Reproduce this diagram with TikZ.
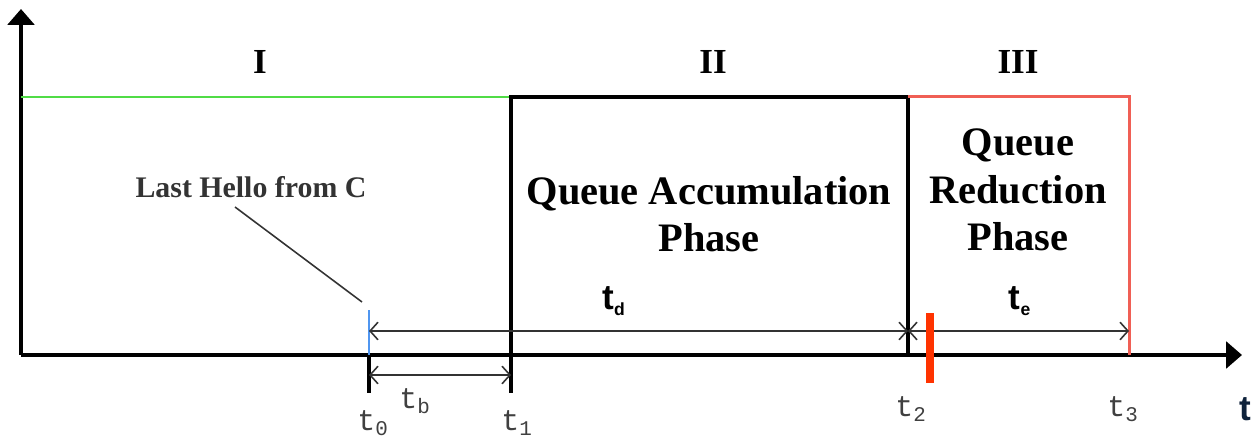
\documentclass[tikz,border=0pt]{standalone}
\usepackage{fontspec}
\setmainfont{Liberation Serif}
\newfontfamily\monofont{Liberation Mono}
\newfontfamily\sansfont{Liberation Sans}
\usepackage{xcolor}
\usepackage{tikz}
\usetikzlibrary{arrows.meta, positioning}

\definecolor{phasegreen}{RGB}{80,220,70}
\definecolor{phasered}{RGB}{240,95,85}
\definecolor{hellblue}{RGB}{80,150,240}
\definecolor{markred}{RGB}{255,51,0}
\definecolor{tnavy}{RGB}{15,35,60}

\begin{document}
\begin{tikzpicture}[
    axis/.style={line width=2.2pt, -{Triangle[length=9pt,width=15pt]}},
    phase/.style={line width=2pt},
    tick/.style={line width=2pt},
    span/.style={line width=0.9pt, draw=black!80, {Straight Barb[length=4.5pt,width=10pt]}-{Straight Barb[length=4.5pt,width=10pt]}},
    roman/.style={font=\fontsize{20}{22}\selectfont\bfseries},
    title/.style={font=\fontsize{23}{27}\selectfont\bfseries, align=center},
    tlabel/.style={font=\monofont\fontsize{17}{19}\selectfont, text=black!75},
    dlabel/.style={font=\sansfont\fontsize{20}{22}\selectfont\bfseries}
]
\useasboundingbox (0,0) rectangle (25.04,8.78);

% Axes
\coordinate (origin) at (0.42,1.68);
\coordinate (ytop) at (0.42,8.6);
\coordinate (xend) at (24.84,1.68);
\draw[axis] (origin) -- (ytop);
\draw[axis] (origin) -- (xend);

% Time points
\coordinate (t0) at (7.38,1.68);
\coordinate (t1) at (10.22,1.68);
\coordinate (t2) at (18.16,1.68);
\coordinate (t3) at (22.58,1.68);
\coordinate (t0low) at (7.38,0.92);
\coordinate (t1low) at (10.22,0.92);
\coordinate (hello) at (7.38,2.58);

% Phases
\coordinate (p1) at (0.42,6.84);
\coordinate (p2) at (10.22,6.84);
\coordinate (p3) at (18.16,6.84);
\coordinate (p4) at (22.58,6.84);
\draw[phase, draw=phasegreen, line width=1.6pt] (p1) -- (p2);
\draw[phase] (t1) -- (p2) -- (p3) -- (t2);
\draw[phase, draw=phasered, line width=1.7pt] (p3) -- (p4) -- (t3);

% Ticks
\draw[tick] (t0) -- (t0low);
\draw[tick] (t1) -- (t1low);
\draw[line width=1.6pt, draw=hellblue] (t0) -- (hello);

% Durations
\coordinate (db) at (7.38,2.16);
\coordinate (d1) at (18.16,2.16);
\coordinate (e1) at (22.58,2.16);
\coordinate (bb) at (7.38,1.28);
\coordinate (b1) at (10.22,1.28);
\draw[span] (db) -- (d1);
\draw[span] (d1) -- (e1);
\draw[span] (bb) -- (b1);

% Marker
\fill[markred] (18.52,1.12) rectangle (18.68,2.52);

% Labels
\node[roman] (one) at (5.2,7.54) {I};
\node[roman] (two) at (14.26,7.54) {II};
\node[roman] (three) at (20.36,7.54) {III};
\node[title] (accum) at (14.18,4.5) {Queue Accumulation\\Phase};
\node[title] (reduce) at (20.36,4.98) {Queue\\Reduction\\Phase};
\node[font=\fontsize{17}{19}\selectfont\bfseries, text=black!80] (last) at (5.02,5.04) {Last Hello from C};
\coordinate (lead) at (4.7,4.64);
\draw[line width=0.9pt, draw=black!80] (lead) -- (7.24,2.74);

\node[dlabel] (td) at (12.28,2.76) {t\textsubscript{\fontsize{10}{10}\selectfont d}};
\node[dlabel] (te) at (20.4,2.76) {t\textsubscript{\fontsize{10}{10}\selectfont e}};
\node[tlabel] (tb) at (8.3,0.76) {t\textsubscript{b}};
\node[tlabel] (lt0) at (7.46,0.32) {t\textsubscript{0}};
\node[tlabel] (lt1) at (10.34,0.32) {t\textsubscript{1}};
\node[tlabel] (lt2) at (18.22,0.6) {t\textsubscript{2}};
\node[tlabel] (lt3) at (22.46,0.6) {t\textsubscript{3}};
\node[dlabel, text=tnavy, anchor=west, inner sep=0pt] (taxis) at (24.78,0.6) {t};

\end{tikzpicture}
\end{document}
